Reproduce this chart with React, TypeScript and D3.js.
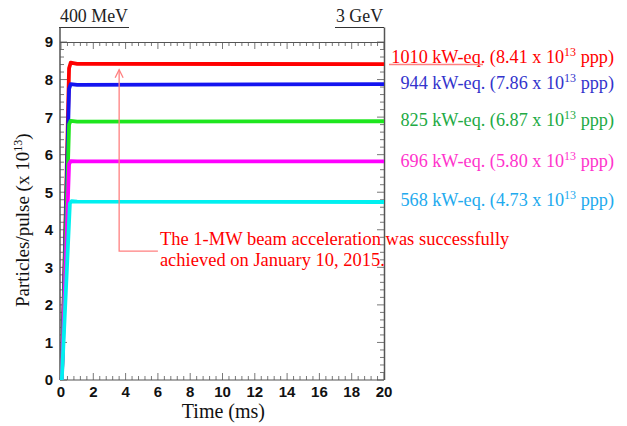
import React from 'react';
import * as d3 from 'd3';

const W = 627;
const H = 426;
const MARGIN = { top: 42, right: 243, bottom: 46, left: 61 };

// beam power labels and plateau intensities (x 10^13 ppp)
const powers = ['1010', '944', '825', '696', '568'];
const intensities = [8.41, 7.86, 6.87, 5.8, 4.73];
const lineColors = ['#ff0000', '#1414f0', '#1ee61e', '#ff00ff', '#00f0f0'];
const textColors = ['#ff0000', '#3333cc', '#22aa44', '#ff33cc', '#22aaee'];
const labelY = [63, 89, 126, 167, 206];

// each trace: time (ms), particles/pulse
const seriesRed: [number, number][] = [[0.05, 0], [0.5, 8.3], [0.6, 8.45], [1, 8.42], [20, 8.41]];
const seriesBlue: [number, number][] = [[0.05, 0], [0.5, 7.75], [0.6, 7.88], [1, 7.86], [20, 7.88]];
const seriesGreen: [number, number][] = [[0.05, 0], [0.5, 6.8], [0.6, 6.9], [1, 6.88], [20, 6.89]];
const seriesMagenta: [number, number][] = [[0.05, 0], [0.5, 5.75], [0.6, 5.83], [1, 5.82], [20, 5.82]];
const seriesCyan: [number, number][] = [[0.05, 0], [0.55, 4.7], [0.65, 4.76], [1, 4.75], [20, 4.74]];
const allSeries = [seriesRed, seriesBlue, seriesGreen, seriesMagenta, seriesCyan];

const xTicks = [0, 2, 4, 6, 8, 10, 12, 14, 16, 18, 20];
const yTicks = [0, 1, 2, 3, 4, 5, 6, 7, 8, 9];

// annotation arrow path in data units
const arrowPts: [number, number][] = [[6.0, 3.43], [3.6, 3.43], [3.6, 8.26]];
const noteLines = ['The 1-MW beam acceleration was successfully', 'achieved on January 10, 2015.'];

const SERIF = '"Liberation Serif", "Times New Roman", serif';
const SANS = '"Liberation Sans", Arial, sans-serif';

const App = () => {
  const innerW = W - MARGIN.left - MARGIN.right;
  const innerH = H - MARGIN.top - MARGIN.bottom;
  const x = d3.scaleLinear().domain([0, 20]).range([0, innerW]);
  const y = d3.scaleLinear().domain([0, 9]).range([innerH, 0]);
  const line = d3.line<[number, number]>().x(d => x(d[0])).y(d => y(d[1]));

  const xMinor = d3.range(0, 20.001, 0.4);
  const yMinor = d3.range(0, 9.001, 0.2);
  const axisColor = '#555';
  const annColor = '#ff8080';

  const tipX = x(arrowPts[2][0]);
  const tipY = y(arrowPts[2][1]);

  return (
    <div style={{ position: 'absolute', left: 0, top: 0 }}>
      <svg width={W} height={H} style={{ display: 'block', background: '#fff' }}>
        {/* top energy labels */}
        <text x={60} y={22} fontFamily={SERIF} fontSize={18} fill="#222" textLength={68}
          lengthAdjust="spacingAndGlyphs">400 MeV</text>
        <line x1={59} x2={129} y1={27.5} y2={27.5} stroke="#333" strokeWidth={1.2} />
        <text x={336} y={22} fontFamily={SERIF} fontSize={18} fill="#222" textLength={47}
          lengthAdjust="spacingAndGlyphs">3 GeV</text>
        <line x1={335} x2={384} y1={27.5} y2={27.5} stroke="#333" strokeWidth={1.2} />

        <g transform={`translate(${MARGIN.left},${MARGIN.top})`}>
          {/* frame */}
          <line x1={-1} x2={-1} y1={27.5 - MARGIN.top} y2={innerH} stroke={axisColor} strokeWidth={1.5} />
          <line x1={innerW + 0.5} x2={innerW + 0.5} y1={27.5 - MARGIN.top} y2={innerH} stroke={axisColor} strokeWidth={1.5} />
          <line x1={-1} x2={innerW} y1={0.5} y2={0.5} stroke={axisColor} strokeWidth={1} />
          <line x1={-1} x2={innerW} y1={innerH} y2={innerH} stroke={axisColor} strokeWidth={1.2} />

          {/* x ticks bottom & top */}
          {xMinor.map((t, i) => {
            const major = i % 5 === 0;
            const len = major ? 7 : 4;
            return (
              <g key={`xt${i}`} stroke={axisColor} strokeWidth={0.8}>
                <line x1={x(t)} x2={x(t)} y1={innerH} y2={innerH - len} />
                <line x1={x(t)} x2={x(t)} y1={0} y2={len} />
              </g>
            );
          })}
          {/* y ticks left & right */}
          {yMinor.map((v, i) => {
            const major = i % 5 === 0;
            const len = major ? 7 : 4;
            return (
              <g key={`yt${i}`} stroke={axisColor} strokeWidth={0.8}>
                <line x1={-1} x2={-1 + len} y1={y(v)} y2={y(v)} />
                <line x1={innerW} x2={innerW - len} y1={y(v)} y2={y(v)} />
              </g>
            );
          })}

          {xTicks.map(t => (
            <text key={`xl${t}`} x={x(t)} y={innerH + 17} textAnchor="middle" fontFamily={SANS}
              fontWeight="bold" fontSize={15} fill="#111">{t}</text>
          ))}
          {yTicks.map(v => (
            <text key={`yl${v}`} x={-8} y={y(v)} dy="0.36em" textAnchor="end" fontFamily={SANS}
              fontWeight="bold" fontSize={15} fill="#111">{v}</text>
          ))}

          {/* traces */}
          {allSeries.map((s, i) => (
            <path key={`s${i}`} d={line(s) || ''} fill="none" stroke={lineColors[i]} strokeWidth={3.8}
              strokeLinejoin="round" />
          ))}

          {/* annotation arrow */}
          <path d={line(arrowPts) || ''} fill="none" stroke={annColor} strokeWidth={1.3} />
          <path d={`M${tipX - 4},${tipY + 8} L${tipX},${tipY} L${tipX + 4},${tipY + 8}`} fill="none"
            stroke={annColor} strokeWidth={1.3} />
          {noteLines.map((s, i) => (
            <text key={`n${i}`} x={x(arrowPts[0][0]) + 2} y={y(arrowPts[0][1]) - 6 + i * 21}
              fontFamily={SERIF} fontSize={18.5} fill="#ff0000">{s}</text>
          ))}
        </g>

        {/* axis titles */}
        <text x={265} y={418} textAnchor="end" fontFamily={SERIF} fontSize={20} fill="#111">Time (ms)</text>
        <text transform="translate(29,307) rotate(-90)" fontFamily={SERIF} fontSize={19} fill="#111">
          Particles/pulse (x 10<tspan dy={-7} fontSize={12}>13</tspan><tspan dy={7}>)</tspan>
        </text>

        {/* right-hand labels */}
        {powers.map((p, i) => (
          <text key={`lab${i}`} x={614} y={labelY[i]} textAnchor="end" fontFamily={SERIF} fontSize={18.2}
            fill={textColors[i]}>
            {`${p} kW-eq. (${intensities[i].toFixed(2)} x 10`}
            <tspan dy={-7} fontSize={12}>13</tspan>
            <tspan dy={7}> ppp)</tspan>
          </text>
        ))}
        <line x1={389} x2={483} y1={64.5} y2={64.5} stroke={annColor} strokeWidth={1.3} />
      </svg>
    </div>
  );
};

export default App;
